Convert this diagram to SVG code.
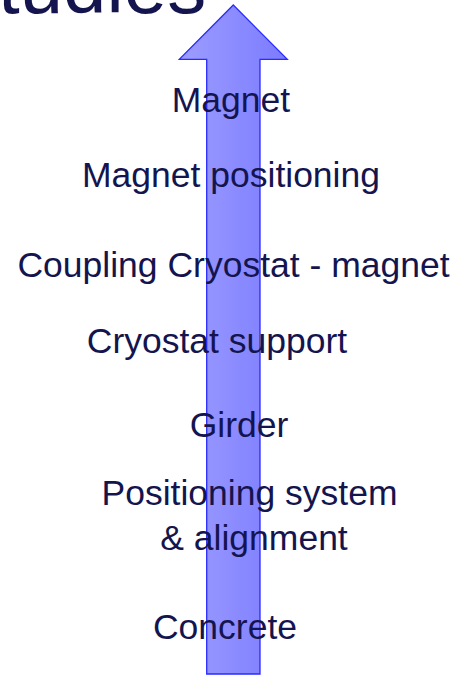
<svg xmlns="http://www.w3.org/2000/svg" width="458" height="675" viewBox="0 0 458 675">
<style>
.t{font-family:"Liberation Sans",Arial,sans-serif;font-size:35.5px;fill:#14144f;text-anchor:middle}
.title{font-family:"Liberation Sans",Arial,sans-serif;font-size:78px;fill:#14144f}
</style>
<defs>
<linearGradient id="g" x1="0" y1="0" x2="1" y2="0">
<stop offset="0" stop-color="#9d9dff"/>
<stop offset="1" stop-color="#7b7bff"/>
</linearGradient>
</defs>
<rect width="458" height="675" fill="#fff"/>
<text class="title" x="-2" y="13">tudies</text>
<g id="connectors">
<path d="M233.3,5 L287.3,59.3 L260,59.3 L260,674 L206.7,674 L206.7,59.3 L179.3,59.3 Z" fill="url(#g)" stroke="#2a2aff" stroke-width="1.3"/>
</g>
<g id="magnet"><text class="t" x="231" y="111.5">Magnet</text></g>
<g id="magnet-positioning"><text class="t" x="231" y="187.3">Magnet positioning</text></g>
<g id="coupling"><text class="t" x="233.5" y="276.7">Coupling Cryostat - magnet</text></g>
<g id="cryostat-support"><text class="t" x="217" y="352.7">Cryostat support</text></g>
<g id="girder"><text class="t" x="239" y="436.7">Girder</text></g>
<g id="positioning-system"><text class="t" x="249.5" y="505">Positioning system</text><text class="t" x="254" y="550">&amp; alignment</text></g>
<g id="concrete"><text class="t" x="225" y="639.3">Concrete</text></g>
</svg>
